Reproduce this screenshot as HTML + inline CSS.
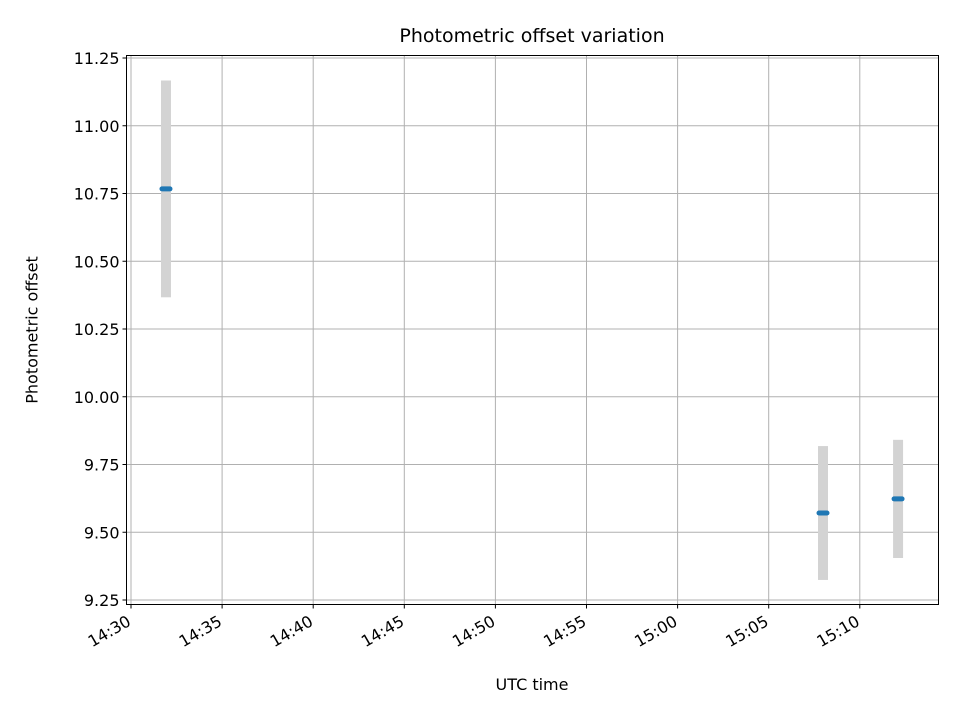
<!DOCTYPE html>
<html><head><meta charset="utf-8"><style>body{margin:0;background:#fff}svg{display:block;font-family:"DejaVu Sans","Liberation Sans",sans-serif}</style></head>
<body>
<svg id="c" width="960" height="720"></svg>
<script>
const times = [1.92, 37.98, 42.1]; // minutes after 14:30
const values = [10.767, 9.571, 9.623];
const errors = [0.40, 0.247, 0.218];
const yTicks = [9.25, 9.50, 9.75, 10.00, 10.25, 10.50, 10.75, 11.00, 11.25];
const xTicks = [0, 5, 10, 15, 20, 25, 30, 35, 40];
const xTickLabels = ["14:30","14:35","14:40","14:45","14:50","14:55","15:00","15:05","15:10"];
const L=126.5,R=938.5,T=55.5,B=604.5;
const xs=m=>131+m*(91.1/5);
const ys=v=>58+(11.25-v)*271;
const svg=document.getElementById('c');const NS='http://www.w3.org/2000/svg';
function mk(t,a,p){const e=document.createElementNS(NS,t);for(const k in a)e.setAttribute(k,a[k]);(p||svg).appendChild(e);return e;}
let g;
g=mk('g',{});
xTicks.forEach(t=>mk('line',{x1:xs(t),x2:xs(t),y1:T,y2:B,stroke:'#b0b0b0','stroke-width':1},g));
yTicks.forEach(t=>mk('line',{x1:L,x2:R,y1:ys(t),y2:ys(t),stroke:'#b0b0b0','stroke-width':1},g));
g=mk('g',{});
times.forEach((t,i)=>{const e=mk('rect',{x:xs(t)-5,y:ys(values[i]+errors[i]),width:10,height:ys(values[i]-errors[i])-ys(values[i]+errors[i]),fill:'#d3d3d3'},g);});
g=mk('g',{});
times.forEach((t,i)=>{const e=mk('line',{x1:xs(t)-4,x2:xs(t)+4,y1:ys(values[i]),y2:ys(values[i]),stroke:'#1f77b4','stroke-width':5,'stroke-linecap':'round'},g);});
const fr=mk('rect',{x:L,y:T,width:R-L,height:B-T,fill:'none',stroke:'#000','stroke-width':1});

g=mk('g',{});
yTicks.forEach(t=>{mk('line',{x1:L-4,x2:L,y1:ys(t),y2:ys(t),stroke:'#000'},g);const e=mk('text',{x:L-7,y:ys(t)+6,'text-anchor':'end','font-size':16},g);e.textContent=t.toFixed(2);});
g=mk('g',{});
xTicks.forEach((t,i)=>{mk('line',{x1:xs(t),x2:xs(t),y1:B,y2:B+4,stroke:'#000'},g);const e=mk('text',{x:xs(t)+1,y:B+20,'text-anchor':'end','font-size':16,transform:`rotate(-30 ${xs(t)+1} ${B+20})`},g);e.textContent=xTickLabels[i];});
</script>
<div style="position:absolute;left:0;top:0;width:960px;height:720px;pointer-events:none;font-family:'DejaVu Sans','Liberation Sans',sans-serif;color:#000">
<div style="position:absolute;left:126px;width:812px;top:25px;text-align:center;font-size:19px">Photometric offset variation</div>
<div style="position:absolute;left:126px;width:812px;top:675px;text-align:center;font-size:16px">UTC time</div>
<div style="position:absolute;left:32px;top:330px;font-size:16px;transform:translate(-50%,-50%) rotate(-90deg);white-space:nowrap">Photometric offset</div>
</div>
</body></html>
